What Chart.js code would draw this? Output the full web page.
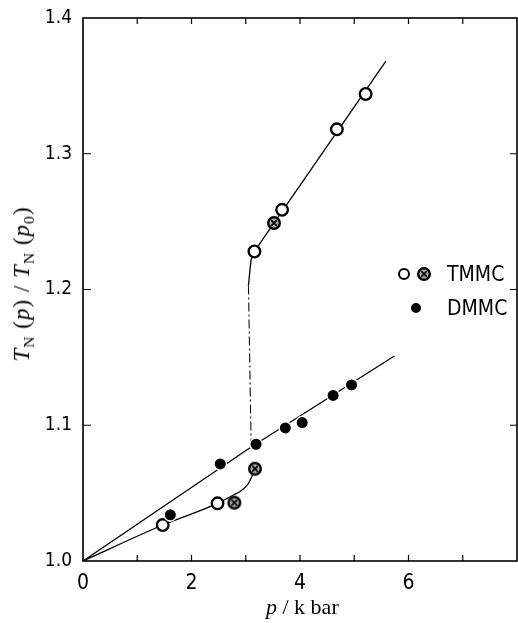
<!DOCTYPE html>
<html><head><meta charset="utf-8">
<script src="https://cdn.jsdelivr.net/npm/chart.js@4/dist/chart.umd.min.js"></script>
<style>
html,body{margin:0;padding:0;background:#fff}
#wrap{position:relative;width:518px;height:623px;overflow:hidden}
canvas{position:absolute;left:0;top:0}
.t{position:absolute;color:#000;white-space:nowrap}
.serif{font-family:"Liberation Serif","DejaVu Serif",serif}
.sans{font-family:"DejaVu Sans Condensed","DejaVu Sans",sans-serif}
sub{font-size:68%;vertical-align:-0.3em;line-height:0}
</style>
</head><body><div id="wrap"><canvas id="c" width="518" height="623"></canvas>
<div class="t serif" id="ytitle" style="left:22px;top:284px;font-size:23px;letter-spacing:1px;transform:translate(-50%,-50%) rotate(-90deg)"><i>T</i><sub>N</sub> (<i>p</i>) / <i>T</i><sub>N</sub> (<i>p</i><sub>0</sub>)</div>
<div class="t serif" id="xtitle" style="left:266px;top:594px;font-size:22px"><i>p</i> / k bar</div>
<div class="t sans" style="left:447px;top:262px;font-size:21px;line-height:24px">TMMC</div>
<div class="t sans" style="left:447px;top:296px;font-size:21px;line-height:24px">DMMC</div>
<span id="lgOpen" style="position:absolute;left:398px;top:268px;width:8px;height:8px;border:2px solid #000;border-radius:50%;background:#fff"></span>
<span id="lgHatch" style="position:absolute;left:416px;top:266px;width:16px;height:16px"></span>
<span id="lgDot" style="position:absolute;left:411px;top:303px;width:10px;height:10px;border-radius:50%;background:#000"></span>
</div>
<script>
// ---- data ----
const xTickValues = [0, 2, 4, 6];
const xTickLabels = ['0', '2', '4', '6'];
const xMinorTicks = [1, 2, 3, 4, 5, 6, 7];
const yTickValues = [1.0, 1.1, 1.2, 1.3, 1.4];
const yTickLabels = ['1.0', '1.1', '1.2', '1.3', '1.4'];
const yInnerTicks = [1.1, 1.2, 1.3];

// TMMC open circles
const tmmcOpenP = [1.47, 2.48, 3.16, 3.67, 4.68, 5.21];
const tmmcOpenT = [1.0265, 1.0425, 1.228, 1.2587, 1.318, 1.344];
// TMMC hatched circles
const tmmcHatchP = [2.79, 3.17, 3.52];
const tmmcHatchT = [1.043, 1.068, 1.249];
// DMMC filled dots
const dmmcP = [1.61, 2.53, 3.19, 3.73, 4.04, 4.61, 4.95];
const dmmcT = [1.034, 1.0715, 1.086, 1.098, 1.102, 1.122, 1.1297];

// guide curves
const tmmcLowP = [0, 1.47, 2.48, 2.79, 2.88, 3.03, 3.10, 3.17];
const tmmcLowT = [1.0, 1.0265, 1.0425, 1.049, 1.0508, 1.056, 1.0612, 1.068];
const tmmcHighP = [3.16, 5.58];
const tmmcHighT = [1.228, 1.368];
const tmmcBendP = [3.05, 3.10, 3.16];
const tmmcBendT = [1.203, 1.222, 1.228];
const transP = [3.05, 3.10];
const transT = [1.203, 1.084];
const dmmcLowP = [0, 3.10];
const dmmcLowT = [1.0, 1.084];
const dmmcHighP = [3.10, 5.74];
const dmmcHighT = [1.084, 1.151];

const zip = (a, b) => a.map((v, i) => ({x: v, y: b[i]}));

function hatchImg() {
  const c = document.createElement('canvas'); c.width = 16; c.height = 16;
  const g = c.getContext('2d');
  g.beginPath(); g.arc(8, 8, 5.8, 0, 2 * Math.PI);
  g.fillStyle = '#aaa'; g.fill(); g.lineWidth = 2.4; g.strokeStyle = '#000'; g.stroke();
  g.lineWidth = 1.7; g.beginPath();
  g.moveTo(5.2, 5.2); g.lineTo(10.8, 10.8); g.moveTo(10.8, 5.2); g.lineTo(5.2, 10.8); g.stroke();
  return c;
}
const hatch = hatchImg();
document.getElementById('lgHatch').appendChild(hatchImg());

const lineDs = (data, extra) => Object.assign({
  data, showLine: true, pointRadius: 0, borderColor: '#000', borderWidth: 1.3,
  fill: false, order: 10
}, extra || {});

const framePlugin = {
  id: 'frame',
  afterDraw(chart) {
    const {ctx, chartArea: a, scales: {x, y}} = chart;
    ctx.save();
    ctx.strokeStyle = '#000';
    ctx.lineWidth = 1.6;
    ctx.strokeRect(a.left, a.top, a.right - a.left, a.bottom - a.top);
    ctx.lineWidth = 1.2;
    ctx.beginPath();
    xMinorTicks.forEach(v => {
      const px = x.getPixelForValue(v);
      ctx.moveTo(px, a.bottom); ctx.lineTo(px, a.bottom - 6);
      ctx.moveTo(px, a.top); ctx.lineTo(px, a.top + 6);
    });
    yInnerTicks.forEach(v => {
      const py = y.getPixelForValue(v);
      ctx.moveTo(a.left, py); ctx.lineTo(a.left + 8, py);
      ctx.moveTo(a.right, py); ctx.lineTo(a.right - 7, py);
    });
    ctx.stroke();
    ctx.restore();
  }
};

new Chart(document.getElementById('c'), {
  type: 'scatter',
  data: {
    datasets: [
      lineDs(zip(dmmcLowP, dmmcLowT)),
      lineDs(zip(dmmcHighP, dmmcHighT)),
      lineDs(zip(tmmcLowP, tmmcLowT), {cubicInterpolationMode: 'monotone'}),
      lineDs(zip(tmmcHighP, tmmcHighT)),
      lineDs(zip(tmmcBendP, tmmcBendT), {cubicInterpolationMode: 'monotone'}),
      lineDs(zip(transP, transT), {borderWidth: 1.1, borderColor: '#111', borderDash: [9, 3, 2, 3]}),
      {data: zip(dmmcP, dmmcT), pointRadius: 6.2, pointBackgroundColor: '#000',
       pointBorderColor: '#fff', pointBorderWidth: 1.4, order: 1},
      {data: zip(tmmcOpenP, tmmcOpenT), pointRadius: 5.8, pointBackgroundColor: '#fff',
       pointBorderColor: '#000', pointBorderWidth: 2.3, order: 1},
      {data: zip(tmmcHatchP, tmmcHatchT), pointStyle: hatch, pointRadius: 6, order: 1}
    ]
  },
  options: {
    responsive: false, animation: false,
    layout: {autoPadding: false, padding: {top: 18, right: 1, left: 0, bottom: 0}},
    plugins: {legend: {display: false}, tooltip: {enabled: false}},
    scales: {
      x: {
        type: 'linear', min: 0, max: 8,
        afterFit(s) { s.height = 62; s.paddingLeft = 0; s.paddingRight = 0; },
        afterBuildTicks(s) { s.ticks = xTickValues.map(v => ({value: v})); },
        grid: {display: false, drawTicks: false}, border: {display: false},
        ticks: {padding: 10, color: '#000', autoSkip: false, maxRotation: 0,
          font: {family: '"DejaVu Sans Condensed","DejaVu Sans",sans-serif', size: 21},
          callback: (v, i) => xTickLabels[i]}
      },
      y: {
        type: 'linear', min: 1.0, max: 1.4,
        afterFit(s) { s.width = 83; s.paddingTop = 0; s.paddingBottom = 0; },
        afterBuildTicks(s) { s.ticks = yTickValues.map(v => ({value: v})); },
        grid: {display: false, drawTicks: false}, border: {display: false},
        ticks: {padding: 11, color: '#000', autoSkip: false,
          font: {family: '"DejaVu Sans Condensed","DejaVu Sans",sans-serif', size: 19},
          callback: (v, i) => yTickLabels[i]}
      }
    }
  },
  plugins: [framePlugin]
});
</script>
</body></html>
